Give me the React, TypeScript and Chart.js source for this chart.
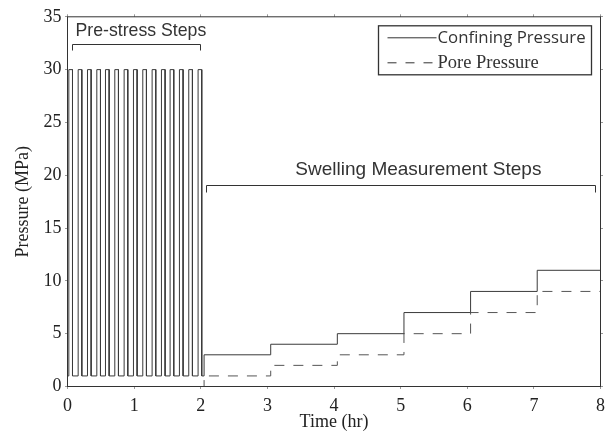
import React, { useEffect, useRef } from 'react';
import { Chart, registerables } from 'chart.js';

Chart.register(...registerables);

// ---- data ----
const pulseStart = [0.02, 0.16, 0.30, 0.44, 0.57, 0.71, 0.85, 0.99, 1.13, 1.27, 1.41, 1.54, 1.68, 1.82, 1.96];
const pulseEnd = [0.075, 0.215, 0.355, 0.495, 0.625, 0.765, 0.905, 1.045, 1.185, 1.325, 1.465, 1.595, 1.735, 1.875, 2.015];
const pulseLow = 1;
const pulseHigh = 30;
const stepTimes = [2.05, 3.05, 4.05, 5.05, 6.05, 7.05];
const confiningLevels = [3, 4, 5, 7, 9, 11];
const poreLevels = [1, 2, 3, 5, 7, 9];
const poreInitial = 0;
const endTime = 8;
const xTickValues = [0, 1, 2, 3, 4, 5, 6, 7, 8];
const xTickLabels = ['0', '1', '2', '3', '4', '5', '6', '7', '8'];
const yTickValues = [0, 5, 10, 15, 20, 25, 30, 35];
const yTickLabels = ['0', '5', '10', '15', '20', '25', '30', '35'];

type P = { x: number; y: number };

function buildConfining(): P[] {
  const pts: P[] = [{ x: 0, y: pulseLow }];
  pulseStart.forEach((s, i) => {
    pts.push({ x: s, y: pulseLow }, { x: s, y: pulseHigh }, { x: pulseEnd[i], y: pulseHigh }, { x: pulseEnd[i], y: pulseLow });
  });
  let prev = pulseLow;
  stepTimes.forEach((t, i) => {
    pts.push({ x: t, y: prev }, { x: t, y: confiningLevels[i] });
    prev = confiningLevels[i];
  });
  pts.push({ x: endTime, y: prev });
  return pts;
}

function buildPore(): P[] {
  const pts: P[] = [{ x: 0, y: poreInitial }];
  let prev = poreInitial;
  stepTimes.forEach((t, i) => {
    pts.push({ x: t, y: prev }, { x: t, y: poreLevels[i] });
    prev = poreLevels[i];
  });
  pts.push({ x: endTime, y: prev });
  return pts;
}

const INK = '#333333';

const overlay = {
  id: 'overlay',
  afterDraw(chart: any) {
    const { ctx, chartArea: a, scales } = chart;
    const x = scales.x;
    const y = scales.y;
    const px = (v: number) => Math.round(x.getPixelForValue(v) - 0.5) + 0.5;
    const py = (v: number) => Math.round(y.getPixelForValue(v) - 0.5) + 0.5;
    const L = a.left;
    const R = a.right;
    const T = a.top;
    const B = a.bottom;
    ctx.save();
    const line = (x1: number, y1: number, x2: number, y2: number) => {
      ctx.beginPath();
      ctx.moveTo(x1, y1);
      ctx.lineTo(x2, y2);
      ctx.stroke();
    };
    // outward ticks
    ctx.strokeStyle = '#999';
    ctx.lineWidth = 1;
    x.ticks.forEach((t: any) => {
      const p = px(t.value);
      line(p, T, p, T - 2.5);
      line(p, B, p, B + 2.5);
    });
    y.ticks.forEach((t: any) => {
      const p = py(t.value);
      line(L, p, L - 2.5, p);
      line(R, p, R + 2.5, p);
    });
    // frame
    ctx.strokeStyle = INK;
    ctx.strokeRect(L, T, R - L, B - T);

    // annotations
    ctx.fillStyle = INK;
    ctx.strokeStyle = INK;
    ctx.textBaseline = 'middle';
    ctx.textAlign = 'left';
    ctx.font = '17.7px "Liberation Sans", Arial, sans-serif';
    ctx.fillText('Pre-stress Steps', x.getPixelForValue(0.12), y.getPixelForValue(33.6));
    ctx.beginPath();
    ctx.moveTo(px(0.08), py(31.8));
    ctx.lineTo(px(0.08), py(32.4));
    ctx.lineTo(px(1.99), py(32.4));
    ctx.lineTo(px(1.99), py(31.8));
    ctx.stroke();

    ctx.font = '19px "Liberation Sans", Arial, sans-serif';
    ctx.fillText('Swelling Measurement Steps', x.getPixelForValue(3.42), y.getPixelForValue(20.5));
    ctx.beginPath();
    ctx.moveTo(px(2.09), py(18.4));
    ctx.lineTo(px(2.09), py(19.0));
    ctx.lineTo(px(7.93), py(19.0));
    ctx.lineTo(px(7.93), py(18.4));
    ctx.stroke();

    // legend
    const bx = R - 222;
    const by = T + 9;
    const bw = 213;
    const bh = 49;
    ctx.fillStyle = '#fff';
    ctx.fillRect(bx, by, bw, bh);
    ctx.strokeStyle = INK;
    ctx.lineWidth = 1.3;
    ctx.strokeRect(bx, by, bw, bh);
    ctx.lineWidth = 1;
    line(bx + 9, by + 12, bx + 58, by + 12);
    ctx.setLineDash([9, 9]);
    line(bx + 9, by + 37, bx + 58, by + 37);
    ctx.setLineDash([]);
    ctx.fillStyle = INK;
    ctx.font = '16.8px "Open Sans", sans-serif';
    ctx.fillText('Confining Pressure', bx + 59, by + 12);
    ctx.font = '18.5px "Liberation Serif", "Times New Roman", serif';
    ctx.fillText('Pore Pressure', bx + 59, by + 37);
    ctx.restore();
  },
};

export default function App() {
  const ref = useRef<HTMLCanvasElement | null>(null);
  useEffect(() => {
    if (!ref.current) return;
    const serif = '"Liberation Serif", "Times New Roman", serif';
    const chart = new Chart(ref.current, {
      type: 'line',
      data: {
        datasets: [
          {
            label: 'Confining Pressure',
            data: buildConfining(),
            borderColor: '#3a3a3a',
            borderWidth: 1,
            pointRadius: 0,
            tension: 0,
            fill: false,
          },
          {
            label: 'Pore Pressure',
            data: buildPore(),
            borderColor: '#555555',
            borderWidth: 1,
            borderDash: [10, 9],
            pointRadius: 0,
            tension: 0,
            fill: false,
          },
        ],
      },
      options: {
        animation: false,
        responsive: false,
        maintainAspectRatio: false,
        parsing: false,
        layout: { padding: { left: 0, top: 13.5, right: 12.5, bottom: 0 } },
        plugins: { legend: { display: false }, tooltip: { enabled: false } },
        scales: {
          x: {
            type: 'linear',
            min: 0,
            max: 8,
            border: { display: false },
            grid: { display: false, drawTicks: false },
            afterBuildTicks: (s: any) => {
              s.ticks = xTickValues.map((v) => ({ value: v }));
            },
            afterFit: (s: any) => {
              s.height = 50.5;
            },
            ticks: {
              autoSkip: false,
              maxRotation: 0,
              padding: 9,
              color: '#222',
              font: { family: serif, size: 18 },
              callback: (_v: any, i: number) => xTickLabels[i],
            },
            title: {
              display: true,
              text: 'Time (hr)',
              color: '#222',
              font: { family: serif, size: 18, lineHeight: 1 },
              padding: { top: 0, bottom: 5.5 },
            },
          },
          y: {
            type: 'linear',
            min: 0,
            max: 35,
            border: { display: false },
            grid: { display: false, drawTicks: false },
            afterBuildTicks: (s: any) => {
              s.ticks = yTickValues.map((v) => ({ value: v }));
            },
            afterFit: (s: any) => {
              s.width = 67.5;
            },
            ticks: {
              autoSkip: false,
              padding: 6,
              color: '#222',
              font: { family: serif, size: 18 },
              callback: (_v: any, i: number) => yTickLabels[i],
            },
            title: {
              display: true,
              text: 'Pressure (MPa)',
              color: '#222',
              font: { family: serif, size: 18, lineHeight: 1 },
              padding: { top: 14, bottom: 0 },
            },
          },
        },
      },
      plugins: [overlay],
    } as any);
    return () => chart.destroy();
  }, []);
  return (
    <div style={{ position: 'fixed', left: 0, top: 0, width: 614, height: 437, background: '#fff' }}>
      <canvas ref={ref} width={614} height={437} style={{ display: 'block' }} />
    </div>
  );
}
